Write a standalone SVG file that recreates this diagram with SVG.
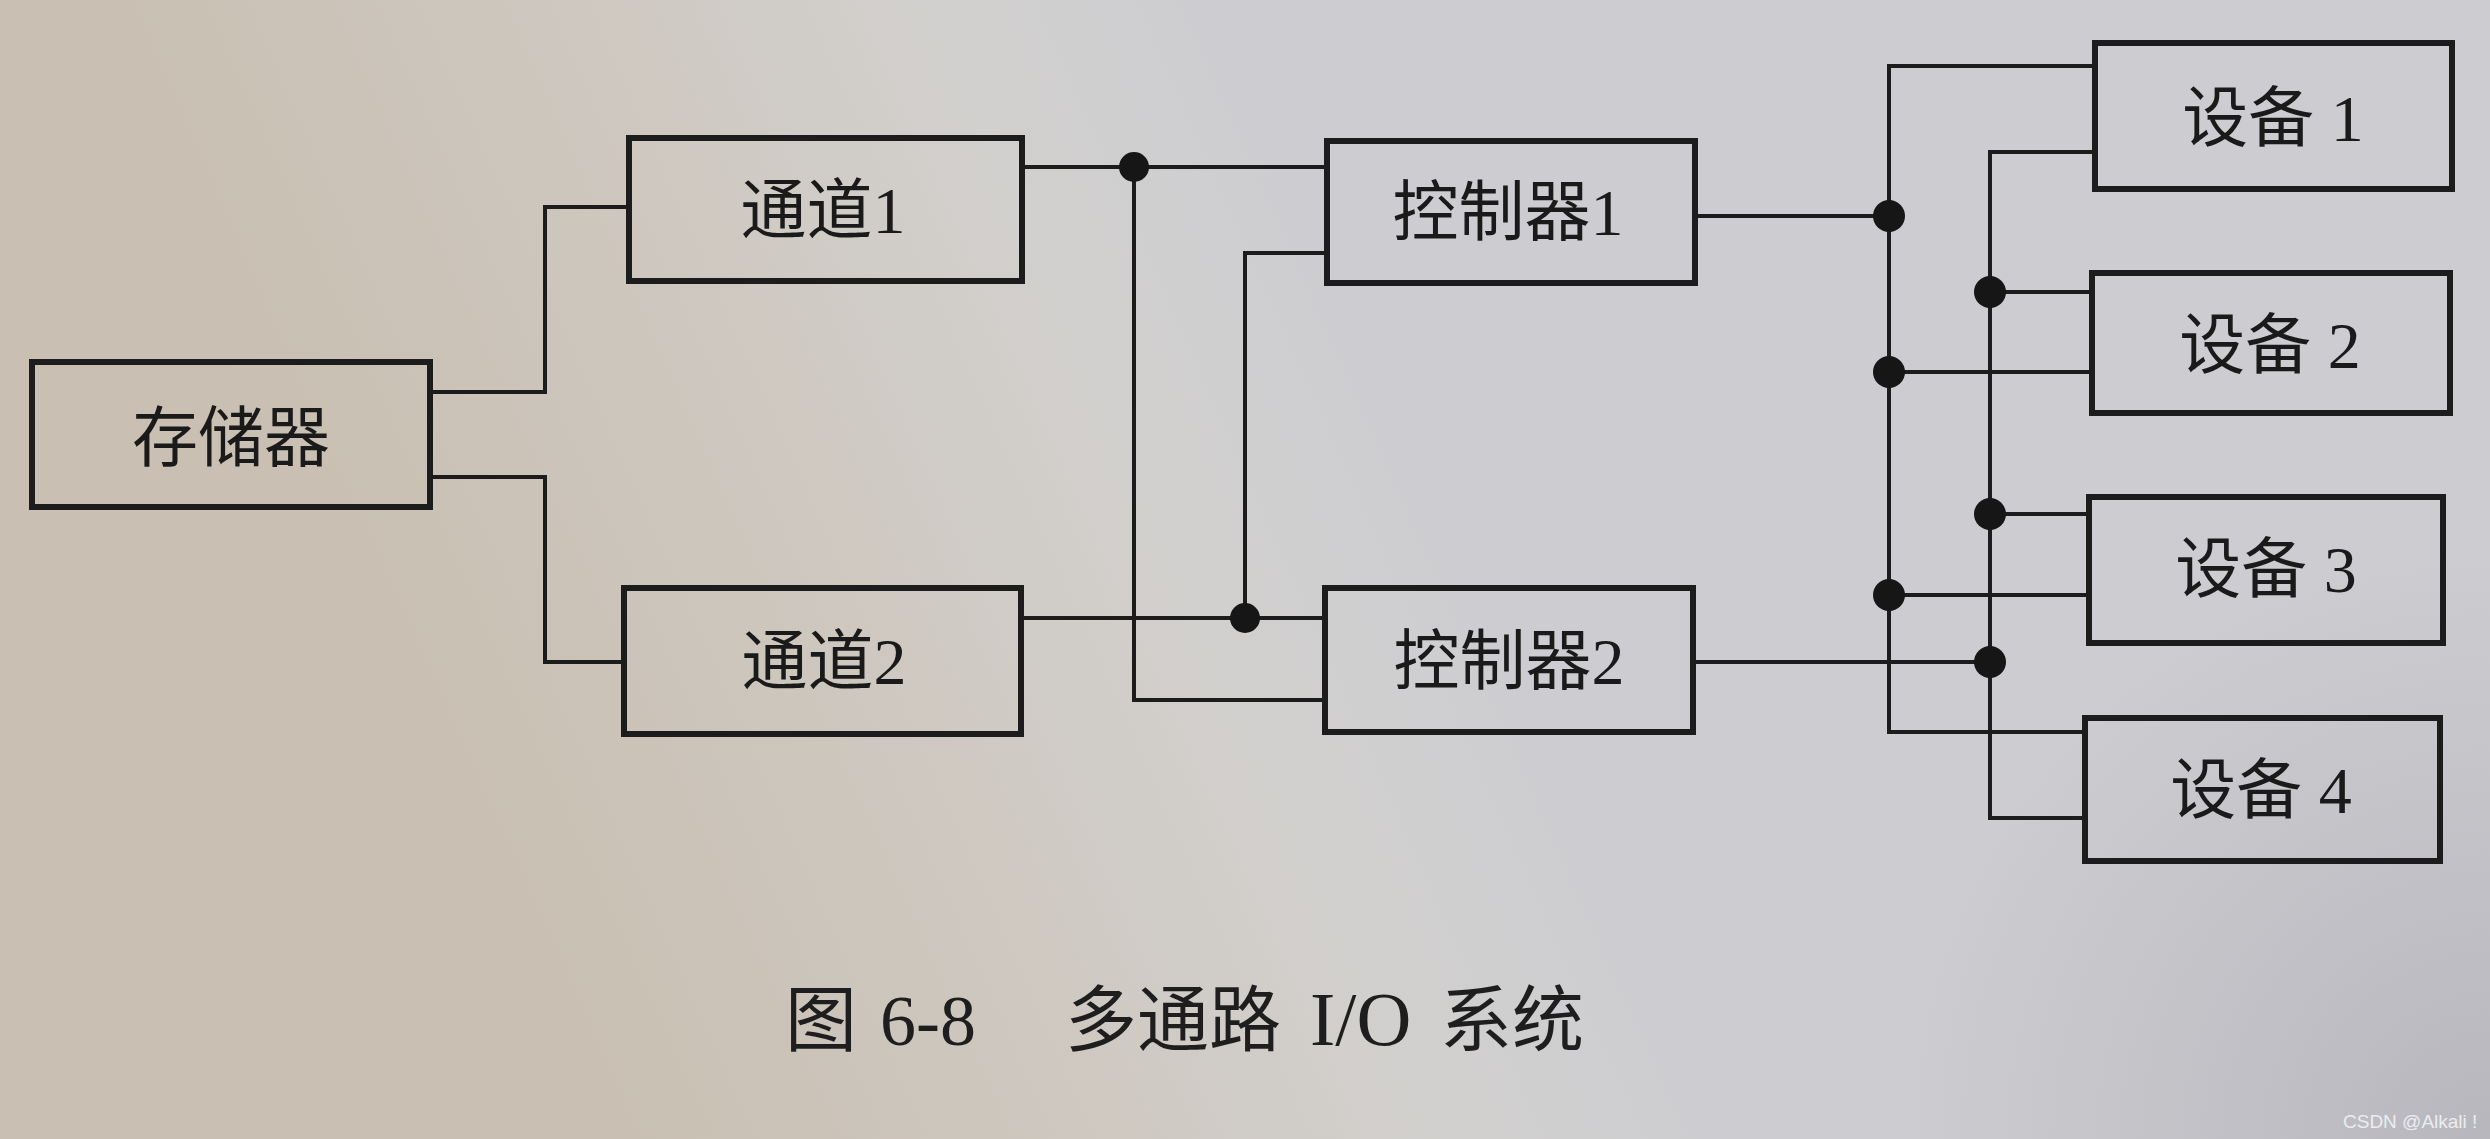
<svg xmlns="http://www.w3.org/2000/svg" width="2490" height="1139" viewBox="0 0 2490 1139">
  <defs>
    <linearGradient id="bg" gradientUnits="userSpaceOnUse" x1="420" y1="780" x2="1370" y2="355">
      <stop offset="0" stop-color="#c9bfb2"/>
      <stop offset="0.45" stop-color="#cec8c0"/>
      <stop offset="0.75" stop-color="#d2d0ce"/>
      <stop offset="1" stop-color="#cdcdd1"/>
    </linearGradient>
    <radialGradient id="corner" cx="2490" cy="1139" r="600" gradientUnits="userSpaceOnUse">
      <stop offset="0" stop-color="#8e8d98" stop-opacity="0.35"/>
      <stop offset="1" stop-color="#8e8d98" stop-opacity="0"/>
    </radialGradient>
  </defs>
  <style>
    .box { fill: none; stroke: #1c1c1c; stroke-width: 6; }
    .wire { fill: none; stroke: #1c1c1c; stroke-width: 4; }
    .dot { fill: #161616; }
    .lbl { font-family: "Liberation Serif", "Noto Sans CJK SC", serif; font-size: 66px; fill: #1a1a1a; text-anchor: middle; }
    .cap { font-family: "Liberation Serif", "Noto Sans CJK SC", serif; font-size: 72px; fill: #1e1e1e; }
    .wm { font-family: "Liberation Sans", sans-serif; font-size: 19px; fill: #ececf0; }
  </style>
  <rect x="0" y="0" width="2490" height="1139" fill="url(#bg)"/>
  <rect x="0" y="0" width="2490" height="1139" fill="url(#corner)"/>

  <g id="connectors">
    <path class="wire" d="M430,392 H545 V207 H629"/>
    <path class="wire" d="M430,477 H545 V662 H624"/>
    <path class="wire" d="M1022,167 H1327"/>
    <path class="wire" d="M1134,167 V700 H1325"/>
    <path class="wire" d="M1021,618 H1325"/>
    <path class="wire" d="M1245,618 V253 H1327"/>
    <path class="wire" d="M1695,216 H1889"/>
    <path class="wire" d="M2095,66 H1889 V732 H2085"/>
    <path class="wire" d="M2095,152 H1990 V818 H2085"/>
    <path class="wire" d="M1990,292 H2092"/>
    <path class="wire" d="M1889,372 H2092"/>
    <path class="wire" d="M1990,514 H2089"/>
    <path class="wire" d="M1889,595 H2089"/>
    <path class="wire" d="M1693,662 H1990"/>
    <circle class="dot" cx="1134" cy="167" r="15"/>
    <circle class="dot" cx="1245" cy="618" r="15"/>
    <circle class="dot" cx="1889" cy="216" r="16"/>
    <circle class="dot" cx="1990" cy="292" r="16"/>
    <circle class="dot" cx="1889" cy="372" r="16"/>
    <circle class="dot" cx="1990" cy="514" r="16"/>
    <circle class="dot" cx="1889" cy="595" r="16"/>
    <circle class="dot" cx="1990" cy="662" r="16"/>
  </g>

  <g id="node-memory">
    <rect class="box" x="32" y="362" width="398" height="145"/>
    <text class="lbl" x="231" y="461">存储器</text>
  </g>
  <g id="node-channel1">
    <rect class="box" x="629" y="138" width="393" height="143"/>
    <text class="lbl" x="823" y="233">通道1</text>
  </g>
  <g id="node-channel2">
    <rect class="box" x="624" y="588" width="397" height="146"/>
    <text class="lbl" x="824" y="684">通道2</text>
  </g>
  <g id="node-controller1">
    <rect class="box" x="1327" y="141" width="368" height="142"/>
    <text class="lbl" x="1508" y="235">控制器1</text>
  </g>
  <g id="node-controller2">
    <rect class="box" x="1325" y="588" width="368" height="144"/>
    <text class="lbl" x="1509" y="684">控制器2</text>
  </g>
  <g id="node-device1">
    <rect class="box" x="2095" y="43" width="357" height="146"/>
    <text class="lbl" x="2273" y="141">设备 1</text>
  </g>
  <g id="node-device2">
    <rect class="box" x="2092" y="273" width="358" height="140"/>
    <text class="lbl" x="2270" y="368">设备 2</text>
  </g>
  <g id="node-device3">
    <rect class="box" x="2089" y="497" width="354" height="146"/>
    <text class="lbl" x="2266" y="592">设备 3</text>
  </g>
  <g id="node-device4">
    <rect class="box" x="2085" y="718" width="355" height="143"/>
    <text class="lbl" x="2261" y="813">设备 4</text>
  </g>

  <g id="caption">
    <text class="cap" y="1045"><tspan x="785">图</tspan><tspan x="880">6-8</tspan><tspan x="1065">多通路</tspan><tspan x="1310" font-size="76">I/O</tspan><tspan x="1440">系统</tspan></text>
  </g>
  <text class="wm" x="2343" y="1128">CSDN @Alkali !</text>
</svg>
